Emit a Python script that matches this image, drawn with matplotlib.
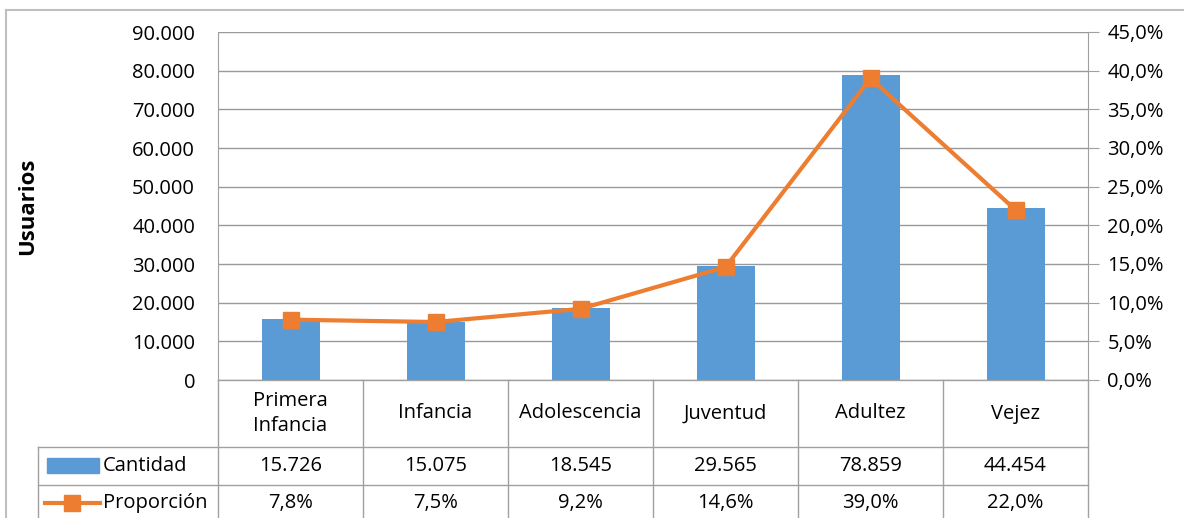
import matplotlib
matplotlib.use("Agg")
import matplotlib.pyplot as plt
from matplotlib.lines import Line2D
from matplotlib.patches import Rectangle
from matplotlib.transforms import blended_transform_factory
from matplotlib.ticker import FuncFormatter

categorias = ["Primera\nInfancia", "Infancia", "Adolescencia", "Juventud", "Adultez", "Vejez"]
cantidad = [15726, 15075, 18545, 29565, 78859, 44454]
proporcion = [7.8, 7.5, 9.2, 14.6, 39.0, 22.0]
cantidad_txt = ["15.726", "15.075", "18.545", "29.565", "78.859", "44.454"]
proporcion_txt = ["7,8%", "7,5%", "9,2%", "14,6%", "39,0%", "22,0%"]

AZUL = "#5B9BD5"
NARANJA = "#ED7D31"
GRIS = "#A0A0A0"
FS = 14.5

plt.rcParams["font.family"] = ["Open Sans", "DejaVu Sans"]

W, H = 1184, 518
fig = plt.figure(figsize=(W / 100, H / 100), dpi=100)

# plot area in pixels: x 218-1088, y 32-380
ax = fig.add_axes([218 / W, 1 - 380 / H, 870 / W, 348 / H])
x = list(range(len(categorias)))
ax.bar(x, cantidad, width=0.4, color=AZUL, zorder=2)
ax.set_xlim(-0.5, 5.5)
ax.set_ylim(0, 90000)
ax.set_yticks(range(0, 90001, 10000))
ax.yaxis.set_major_formatter(FuncFormatter(lambda v, p: f"{int(v):,}".replace(",", ".")))
ax.grid(axis="y", color="#999999", linewidth=1, zorder=0)
ax.tick_params(axis="y", length=0, pad=16.5, labelsize=FS)
ax.set_xticks([])
for s in ["top", "right", "bottom"]:
    ax.spines[s].set_visible(False)
ax.spines["left"].set_color(GRIS)
ax.set_ylabel("Usuarios", fontsize=16, fontweight="bold", labelpad=0)
ax.yaxis.set_label_coords(-180 / 870, 0.5)

ax2 = ax.twinx()
ax2.plot(x, proporcion, color=NARANJA, linewidth=3, marker="s", markersize=11,
         zorder=3)
ax2.set_ylim(0, 45)
ax2.set_yticks([i * 5 for i in range(10)])
ax2.yaxis.set_major_formatter(FuncFormatter(lambda v, p: f"{v:.1f}%".replace(".", ",")))
ax2.tick_params(axis="y", length=8, color=GRIS, pad=6, labelsize=FS)
for s in ["top", "left", "bottom"]:
    ax2.spines[s].set_visible(False)
ax2.spines["right"].set_color(GRIS)

# data table below the plot
tr = blended_transform_factory(ax.transData, ax.transAxes)
y0, y1, y2, y3 = 0.0, -67 / 348, -105 / 348, -150 / 348
xl = -0.5 - 180 / 145  # left edge of legend column
lkw = dict(transform=tr, color=GRIS, linewidth=1, clip_on=False)
ax.add_line(Line2D([-0.5, 5.5], [y0, y0], **lkw))
for yy in (y1, y2):
    ax.add_line(Line2D([xl, 5.5], [yy, yy], **lkw))
for i in range(7):
    ax.add_line(Line2D([i - 0.5, i - 0.5], [y0, y3], **lkw))
ax.add_line(Line2D([xl, xl], [y1, y3], **lkw))

ym = -123 / 348
tkw = dict(transform=tr, ha="center", va="center", fontsize=FS, clip_on=False)
for i in x:
    ax.text(i, (y0 + y1) / 2, categorias[i], linespacing=1.3, **tkw)
    ax.text(i, (y1 + y2) / 2, cantidad_txt[i], **tkw)
    ax.text(i, ym, proporcion_txt[i], **tkw)

# legend keys
ax.add_patch(Rectangle((xl + 9 / 145, (y1 + y2) / 2 - 7 / 348), 52 / 145, 15 / 348,
                       transform=tr, color=AZUL, clip_on=False))
ax.add_line(Line2D([xl + 7 / 145, xl + 62 / 145], [ym, ym], transform=tr,
                   color=NARANJA, linewidth=3, clip_on=False))
ax.add_line(Line2D([xl + 34.5 / 145], [ym], transform=tr, color=NARANJA, marker="s",
                   markersize=11, clip_on=False))
ax.text(xl + 65 / 145, (y1 + y2) / 2, "Cantidad", transform=tr, ha="left",
        va="center", fontsize=FS, clip_on=False)
ax.text(xl + 65 / 145, ym, "Proporción", transform=tr, ha="left", va="center",
        fontsize=FS, clip_on=False)

# chart border
fig.add_artist(Line2D([6 / W, 6 / W], [0, 1 - 10 / H], transform=fig.transFigure,
                      color="#BFBFBF", linewidth=1.5))
fig.add_artist(Line2D([6 / W, 1], [1 - 10 / H, 1 - 10 / H], transform=fig.transFigure,
                      color="#BFBFBF", linewidth=1.5))

fig.savefig("out.png", dpi=100)
